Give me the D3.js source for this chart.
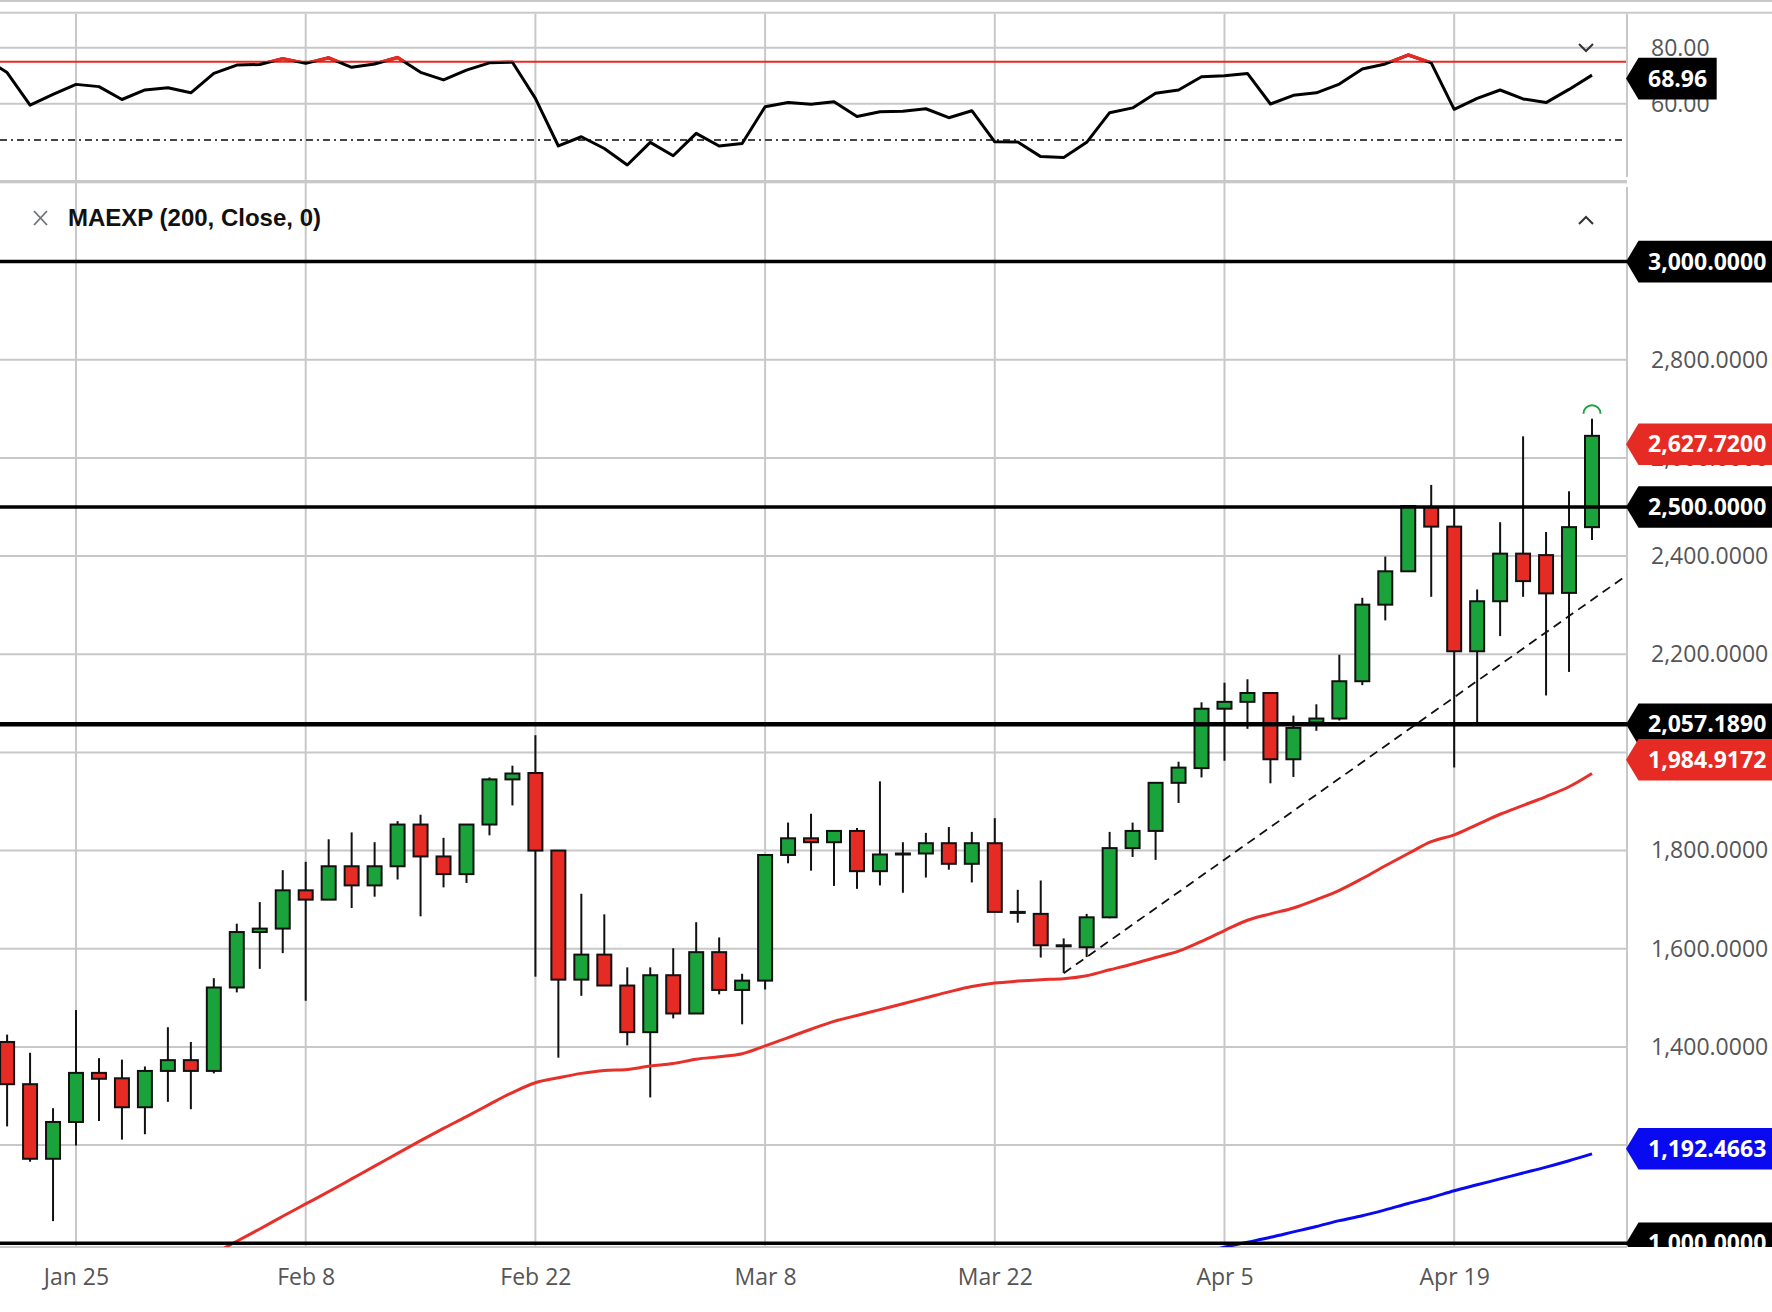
<!DOCTYPE html>
<html>
<head>
<meta charset="utf-8">
<script src="https://cdn.jsdelivr.net/npm/d3@7"></script>
<style>
  body { margin: 0; background: #fff; }
  svg { display: block; }
</style>
</head>
<body>
<div id="chart"></div>
<script>
// trading days, Jan 20 - Apr 27
var dates = d3.timeDay.range(new Date(2021, 0, 20), new Date(2021, 3, 28))
  .filter(function(d) { return d.getDay() !== 0 && d.getDay() !== 6; });
var tickLabels = ["Jan 25", "Feb 8", "Feb 22", "Mar 8", "Mar 22", "Apr 5", "Apr 19"];

var open  = [1410,1324,1172,1247,1347,1336,1277,1351,1373,1351,1521,1634,1641,1719,1700,1768,1729,1768,1853,1788,
             1752,1853,1945,1958,1800,1537,1588,1525,1430,1546,1468,1593,1516,1535,1791,1825,1817,1840,1758,1792,
             1794,1815,1773,1815,1675,1671,1607,1603,1664,1805,1840,1938,1968,2089,2103,2121,1986,2061,2069,2145,
             2301,2369,2500,2460,2206,2308,2405,2402,2325,2459];
var high  = [1425,1388,1275,1475,1377,1374,1360,1440,1410,1540,1651,1695,1760,1777,1823,1837,1817,1860,1873,1826,
             1853,1949,1973,2035,1800,1712,1670,1562,1562,1601,1654,1623,1549,1791,1857,1875,1840,1846,1941,1817,
             1836,1848,1838,1866,1720,1739,1621,1671,1838,1857,1938,1981,2102,2142,2149,2121,2075,2098,2199,2315,
             2399,2503,2545,2500,2332,2469,2644,2449,2532,2680];
var low   = [1238,1166,1045,1199,1249,1211,1222,1288,1273,1346,1511,1559,1591,1494,1700,1683,1706,1741,1666,1725,
             1734,1831,1892,1543,1378,1504,1525,1403,1297,1458,1468,1507,1446,1517,1774,1759,1728,1722,1729,1714,
             1745,1761,1735,1675,1653,1582,1551,1583,1662,1787,1781,1897,1949,1983,2048,1937,1950,2044,2065,2137,
             2269,2369,2317,1969,2061,2237,2317,2116,2164,2433];
var close = [1324,1172,1247,1347,1335,1277,1351,1373,1351,1521,1634,1641,1719,1700,1768,1729,1768,1853,1788,1752,
             1853,1945,1957,1800,1537,1588,1525,1430,1546,1468,1593,1516,1535,1791,1825,1817,1840,1758,1792,1794,
             1815,1773,1815,1675,1674,1607,1605,1664,1805,1840,1938,1969,2089,2103,2121,1986,2050,2069,2145,2301,
             2369,2502,2460,2206,2308,2405,2349,2324,2459,2645];

// moving averages (null = not drawn)
var maRed = [null,null,null,null,null,null,null,925,950,978,1004,1029,1055,1080,1105,1131,1157,1183,1209,1234,
             1258,1283,1307,1327,1337,1346,1352,1354,1361,1366,1375,1380,1386,1402,1419,1436,1452,1464,1476,1488,
             1500,1512,1523,1530,1534,1537,1539,1545,1557,1569,1582,1595,1615,1637,1658,1671,1683,1700,1719,1743,
             1769,1794,1818,1832,1853,1874,1892,1910,1930,1957];
var maBlue = [null,null,null,null,null,null,null,null,null,null,null,null,null,null,null,null,null,null,null,null,
             null,null,null,null,null,null,null,null,null,null,null,null,null,null,null,null,null,null,null,null,
             null,null,null,null,null,null,null,null,null,null,null,null,978,992,1002,1012,1023,1034,1046,1056,
             1068,1081,1093,1107,1119,1131,1143,1155,1168,1182];

var rsi = [71.1,59.5,63.3,66.9,66.1,61.5,64.9,65.7,63.9,70.8,73.8,74.0,76.1,74.4,76.4,73.0,74.2,76.5,71.2,68.5,
           72.0,74.6,74.8,61.9,44.9,48.2,44.0,38.1,46.2,41.4,49.4,44.9,45.8,58.9,60.4,59.8,60.7,55.4,57.1,57.3,
           58.2,55.0,57.5,46.4,46.3,41.1,40.8,46.2,56.8,58.5,63.7,64.9,69.6,70.0,70.8,59.9,63.0,63.9,67.0,72.4,
           74.2,77.4,74.6,58.0,61.9,64.9,61.7,60.4,65.1,70.2];
var rsiPrev = 76.5; // bar before the first one, only its line segment shows
var rsiTicks = [80, 60];
var rsiOverbought = 75;
var rsiMid = 47;

var priceTicks = [1000,1200,1400,1600,1800,2000,2200,2400,2600,2800,3000];
var levels = [{v: 3000, w: 3.5}, {v: 2500, w: 3.5}, {v: 2057.189, w: 4.5}, {v: 1000, w: 3.5}];
var trend = [{i: 46, v: 1550}, {i: 71, v: 2377}];

var valueLabels = [
  {v: 3000, text: "3,000.0000", color: "#000"},
  {v: 2627.72, text: "2,627.7200", color: "#e52b23"},
  {v: 2500, text: "2,500.0000", color: "#000"},
  {v: 2057.189, text: "2,057.1890", color: "#000"},
  {v: 1984.9172, text: "1,984.9172", color: "#e52b23"},
  {v: 1192.4663, text: "1,192.4663", color: "#0a0af0"},
  {v: 1000, text: "1,000.0000", color: "#000"}
];
var rsiLabel = {v: 68.96, text: "68.96"};

var W = 1772, H = 1312;
var plotRight = 1627;
var mainTop = 184, mainBottom = 1247;
var green = "#1aa33b", red = "#e52b23", grid = "#c8c8c8";

var svg = d3.select("#chart").append("svg").attr("width", W).attr("height", H);

var x = d3.scaleLinear().domain([0, dates.length - 1]).range([7.1, 1592]);
var y = d3.scaleLinear().domain([1000, 3000]).range([1243.2, 261.6]);
var yr = d3.scaleLinear().domain([60, 80]).range([103.7, 47.7]);

var fmt = d3.timeFormat("%b %-d");
var tickIdx = dates.map(function(d, i) { return i; })
  .filter(function(i) { return tickLabels.indexOf(fmt(dates[i])) >= 0; });

var defs = svg.append("defs");
defs.append("clipPath").attr("id", "clipMain").append("rect")
  .attr("x", 0).attr("y", mainTop).attr("width", plotRight).attr("height", mainBottom - mainTop);
defs.append("clipPath").attr("id", "clipRsi").append("rect")
  .attr("x", 0).attr("y", 14).attr("width", plotRight).attr("height", 166);
defs.append("clipPath").attr("id", "clipOver").append("rect")
  .attr("x", 0).attr("y", 14).attr("width", plotRight).attr("height", yr(rsiOverbought) - 14);
defs.append("clipPath").attr("id", "clipLabels").append("rect")
  .attr("x", 0).attr("y", 0).attr("width", W).attr("height", mainBottom);

// frame lines
svg.append("line").attr("x1", 0).attr("x2", W).attr("y1", 1).attr("y2", 1)
  .attr("stroke", grid).attr("stroke-width", 2);
svg.append("line").attr("x1", 0).attr("x2", W).attr("y1", 12.7).attr("y2", 12.7)
  .attr("stroke", grid).attr("stroke-width", 2);

// vertical gridlines, both panels
svg.append("g").selectAll("line").data(tickIdx).enter().append("line")
  .attr("x1", function(d) { return x(d); }).attr("x2", function(d) { return x(d); })
  .attr("y1", 14).attr("y2", mainBottom)
  .attr("stroke", grid).attr("stroke-width", 2);

// RSI panel
var rsiG = svg.append("g");
rsiG.selectAll("line.grid").data(rsiTicks).enter().append("line")
  .attr("x1", 0).attr("x2", plotRight)
  .attr("y1", function(d) { return yr(d); }).attr("y2", function(d) { return yr(d); })
  .attr("stroke", grid).attr("stroke-width", 2);
rsiG.append("line").attr("x1", 0).attr("x2", plotRight)
  .attr("y1", yr(rsiOverbought)).attr("y2", yr(rsiOverbought))
  .attr("stroke", red).attr("stroke-width", 2);
rsiG.append("line").attr("x1", 0).attr("x2", plotRight)
  .attr("y1", yr(rsiMid)).attr("y2", yr(rsiMid))
  .attr("stroke", "#444").attr("stroke-width", 2).attr("stroke-dasharray", "7,4,2,4");

var rsiPts = [rsiPrev].concat(rsi);
var rsiLine = d3.line().x(function(d, i) { return x(i - 1); }).y(function(d) { return yr(d); });
rsiG.append("path").datum(rsiPts).attr("d", rsiLine).attr("clip-path", "url(#clipRsi)")
  .attr("fill", "none").attr("stroke", "#000").attr("stroke-width", 3).attr("stroke-linejoin", "round");
rsiG.append("path").datum(rsiPts).attr("d", rsiLine).attr("clip-path", "url(#clipOver)")
  .attr("fill", "none").attr("stroke", red).attr("stroke-width", 3.4).attr("stroke-linejoin", "round");

// separators
svg.append("rect").attr("x", 0).attr("y", 180).attr("width", plotRight).attr("height", 3.3).attr("fill", grid);
svg.append("line").attr("x1", plotRight).attr("x2", plotRight).attr("y1", 14).attr("y2", 177)
  .attr("stroke", grid).attr("stroke-width", 2);
svg.append("line").attr("x1", plotRight).attr("x2", plotRight).attr("y1", 187).attr("y2", mainBottom)
  .attr("stroke", grid).attr("stroke-width", 2);
svg.append("line").attr("x1", 0).attr("x2", plotRight).attr("y1", mainBottom).attr("y2", mainBottom)
  .attr("stroke", grid).attr("stroke-width", 2);

// main panel gridlines
var mainG = svg.append("g").attr("clip-path", "url(#clipMain)");
mainG.selectAll("line.grid").data(priceTicks).enter().append("line")
  .attr("x1", 0).attr("x2", plotRight)
  .attr("y1", function(d) { return y(d); }).attr("y2", function(d) { return y(d); })
  .attr("stroke", grid).attr("stroke-width", 2);

// candles
var candles = dates.map(function(d, i) {
  return {i: i, o: open[i], h: high[i], l: low[i], c: close[i]};
});
var cg = mainG.selectAll("g.candle").data(candles).enter().append("g").attr("class", "candle");
cg.append("line")
  .attr("x1", function(d) { return x(d.i); }).attr("x2", function(d) { return x(d.i); })
  .attr("y1", function(d) { return y(d.h); }).attr("y2", function(d) { return y(d.l); })
  .attr("stroke", "#111").attr("stroke-width", 2);
cg.append("rect")
  .attr("x", function(d) { return x(d.i) - 7; })
  .attr("width", 14)
  .attr("y", function(d) { return y(Math.max(d.o, d.c)); })
  .attr("height", function(d) { return Math.max(Math.abs(y(d.o) - y(d.c)), 1); })
  .attr("fill", function(d) { return d.c >= d.o ? green : red; })
  .attr("stroke", "#111").attr("stroke-width", 2);

// moving averages
var maLine = d3.line()
  .defined(function(d) { return d !== null; })
  .x(function(d, i) { return x(i); }).y(function(d) { return y(d); })
  .curve(d3.curveMonotoneX);
mainG.append("path").datum(maRed).attr("d", maLine)
  .attr("fill", "none").attr("stroke", "#e8302a").attr("stroke-width", 3);
mainG.append("path").datum(maBlue).attr("d", maLine)
  .attr("fill", "none").attr("stroke", "#0a0af0").attr("stroke-width", 3);

// trend line
mainG.append("path").datum(trend)
  .attr("d", d3.line().x(function(d) { return x(d.i); }).y(function(d) { return y(d.v); }))
  .attr("fill", "none").attr("stroke", "#111").attr("stroke-width", 1.8).attr("stroke-dasharray", "9,6");

// level lines
mainG.selectAll("line.level").data(levels).enter().append("line")
  .attr("x1", 0).attr("x2", plotRight)
  .attr("y1", function(d) { return y(d.v); }).attr("y2", function(d) { return y(d.v); })
  .attr("stroke", "#000").attr("stroke-width", function(d) { return d.w; });

// new-high marker above last bar
var last = candles[candles.length - 1];
svg.append("path")
  .attr("d", d3.arc()({innerRadius: 7.5, outerRadius: 9.5, startAngle: -Math.PI / 2, endAngle: Math.PI / 2}))
  .attr("transform", "translate(" + x(last.i) + "," + (y(last.h) - 5) + ")")
  .attr("fill", green);

// legend
svg.append("path").attr("d", "M34,211 L47,225 M47,211 L34,225")
  .attr("stroke", "#6b7279").attr("stroke-width", 1.8);
svg.append("text").attr("x", 68).attr("y", 226)
  .attr("font-family", "Liberation Sans, Arial, sans-serif").attr("font-weight", "bold")
  .attr("font-size", 24).attr("fill", "#111").text("MAEXP (200, Close, 0)");

// chevrons
svg.append("path").attr("d", "M1579,44 L1586,51 L1593,44")
  .attr("fill", "none").attr("stroke", "#333").attr("stroke-width", 2);
svg.append("path").attr("d", "M1579,224 L1586,217 L1593,224")
  .attr("fill", "none").attr("stroke", "#333").attr("stroke-width", 2);

// right axes
var axisFont = "Open Sans, Noto Sans, sans-serif";
var priceAxis = svg.append("g").attr("transform", "translate(1651,0)")
  .attr("clip-path", "url(#clipLabels)")
  .call(d3.axisRight(y).tickValues(priceTicks).tickSize(0).tickPadding(0).tickFormat(d3.format(",.4f")));
priceAxis.select(".domain").remove();
priceAxis.selectAll("text").attr("font-family", axisFont).attr("font-size", 23).attr("fill", "#555");

var rsiAxis = svg.append("g").attr("transform", "translate(1651,0)")
  .call(d3.axisRight(yr).tickValues(rsiTicks).tickSize(0).tickPadding(0).tickFormat(d3.format(".2f")));
rsiAxis.select(".domain").remove();
rsiAxis.selectAll("text").attr("font-family", axisFont).attr("font-size", 23).attr("fill", "#555");

// value tags
function tagPath(cy, right) {
  return "M1626," + cy + " L1638.5," + (cy - 20.8) + " L" + right + "," + (cy - 20.8) +
    " L" + right + "," + (cy + 20.8) + " L1638.5," + (cy + 20.8) + " Z";
}
var tags = svg.append("g").attr("clip-path", "url(#clipLabels)");
var tg = tags.selectAll("g").data(valueLabels).enter().append("g");
tg.append("path").attr("d", function(d) { return tagPath(y(d.v), W + 2); })
  .attr("fill", function(d) { return d.color; });
tg.append("text").attr("x", 1648).attr("y", function(d) { return y(d.v); })
  .attr("dy", "0.35em").attr("font-family", axisFont).attr("font-weight", "bold")
  .attr("font-size", 23).attr("fill", "#fff").text(function(d) { return d.text; });

svg.append("path").attr("d", tagPath(yr(rsiLabel.v), 1716.7)).attr("fill", "#000");
svg.append("text").attr("x", 1648).attr("y", yr(rsiLabel.v)).attr("dy", "0.35em")
  .attr("font-family", axisFont).attr("font-weight", "bold").attr("font-size", 23)
  .attr("fill", "#fff").text(rsiLabel.text);

// date axis
var xAxis = svg.append("g").attr("transform", "translate(0," + mainBottom + ")")
  .call(d3.axisBottom(x).tickValues(tickIdx).tickSize(0).tickPadding(22)
    .tickFormat(function(i) { return fmt(dates[i]); }));
xAxis.select(".domain").remove();
xAxis.selectAll("text").attr("font-family", axisFont).attr("font-size", 23).attr("fill", "#555");
</script>
</body>
</html>
